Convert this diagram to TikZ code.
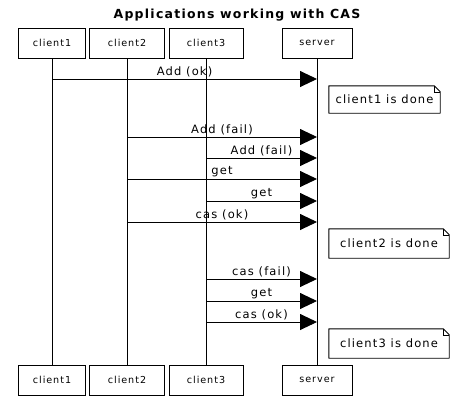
\documentclass[tikz,border=0pt]{standalone}
\usepackage{fontspec}
\setmainfont[LetterSpace=10]{DejaVu Sans}
\usetikzlibrary{arrows.meta,calc}
\begin{document}
\begin{tikzpicture}[x=1pt,y=-1pt,
  lbl/.style={font=\fontsize{9.6}{11}\selectfont},
  mfont/.style={font=\fontsize{11.5}{13}\selectfont},
  part/.style={draw, fill=white, line width=0.9pt, minimum height=30pt, inner sep=0pt, lbl},
  life/.style={line width=0.9pt},
  msg/.style={line width=0.9pt, -{Triangle[length=17pt,width=16pt]}},
  mlabel/.style={above, inner sep=1.5pt, mfont},
  notetext/.style={inner sep=0pt, minimum height=27pt, mfont},
  noteline/.style={line width=0.9pt, line join=round}
]
\useasboundingbox (0,0) rectangle (476,410);

\node[font=\bfseries\fontsize{12.5}{14}\selectfont] (title) at (237,15) {Applications working with CAS};

% participants top
\node[part, minimum width=67pt] (c1t) at (52,43) {client1};
\node[part, minimum width=75pt] (c2t) at (127,43) {client2};
\node[part, minimum width=74pt] (c3t) at (206,43) {client3};
\node[part, minimum width=70pt] (st) at (317,43) {server};
% participants bottom
\node[part, minimum width=67pt] (c1b) at (52,380) {client1};
\node[part, minimum width=75pt] (c2b) at (127,380) {client2};
\node[part, minimum width=74pt] (c3b) at (206,380) {client3};
\node[part, minimum width=70pt] (sb) at (317,380) {server};

% lifelines
\draw[life] (c1t.south) -- (c1b.north);
\draw[life] (c2t.south) -- (c2b.north);
\draw[life] (c3t.south) -- (c3b.north);
\draw[life] (st.south) -- (sb.north);

% message endpoints
\coordinate (a1) at (52,79);  \coordinate (b1) at (317,79);
\coordinate (a2) at (127,137); \coordinate (b2) at (317,137);
\coordinate (a3) at (206,158); \coordinate (b3) at (317,158);
\coordinate (a4) at (127,179); \coordinate (b4) at (317,179);
\coordinate (a5) at (206,201); \coordinate (b5) at (317,201);
\coordinate (a6) at (127,222); \coordinate (b6) at (317,222);
\coordinate (a7) at (206,279); \coordinate (b7) at (317,279);
\coordinate (a8) at (206,301); \coordinate (b8) at (317,301);
\coordinate (a9) at (206,322); \coordinate (b9) at (317,322);

\draw[msg] (a1) -- node[mlabel] (l1) {Add (ok)} (b1);
\draw[msg] (a2) -- node[mlabel] (l2) {Add (fail)} (b2);
\draw[msg] (a3) -- node[mlabel] (l3) {Add (fail)} (b3);
\draw[msg] (a4) -- node[mlabel] (l4) {get} (b4);
\draw[msg] (a5) -- node[mlabel] (l5) {get} (b5);
\draw[msg] (a6) -- node[mlabel] (l6) {cas (ok)} (b6);
\draw[msg] (a7) -- node[mlabel] (l7) {cas (fail)} (b7);
\draw[msg] (a8) -- node[mlabel] (l8) {get} (b8);
\draw[msg] (a9) -- node[mlabel] (l9) {cas (ok)} (b9);

% notes
\node[notetext, minimum width=111pt] (n1) at (384.5,99.5) {client1 is done};
\node[notetext, minimum width=120pt, minimum height=29pt] (n2) at (389,243.5) {client2 is done};
\node[notetext, minimum width=120pt, minimum height=29pt] (n3) at (389,343.5) {client3 is done};
\foreach \n in {n1,n2,n3}{
  \draw[noteline] (\n.north west) -- ($(\n.north east)+(-6,0)$) -- ($(\n.north east)+(0,6)$)
     -- (\n.south east) -- (\n.south west) -- cycle;
  \draw[line width=0.6pt] ($(\n.north east)+(-6,0)$) -- ($(\n.north east)+(-6,6)$) -- ($(\n.north east)+(0,6)$);
}
\end{tikzpicture}
\end{document}
